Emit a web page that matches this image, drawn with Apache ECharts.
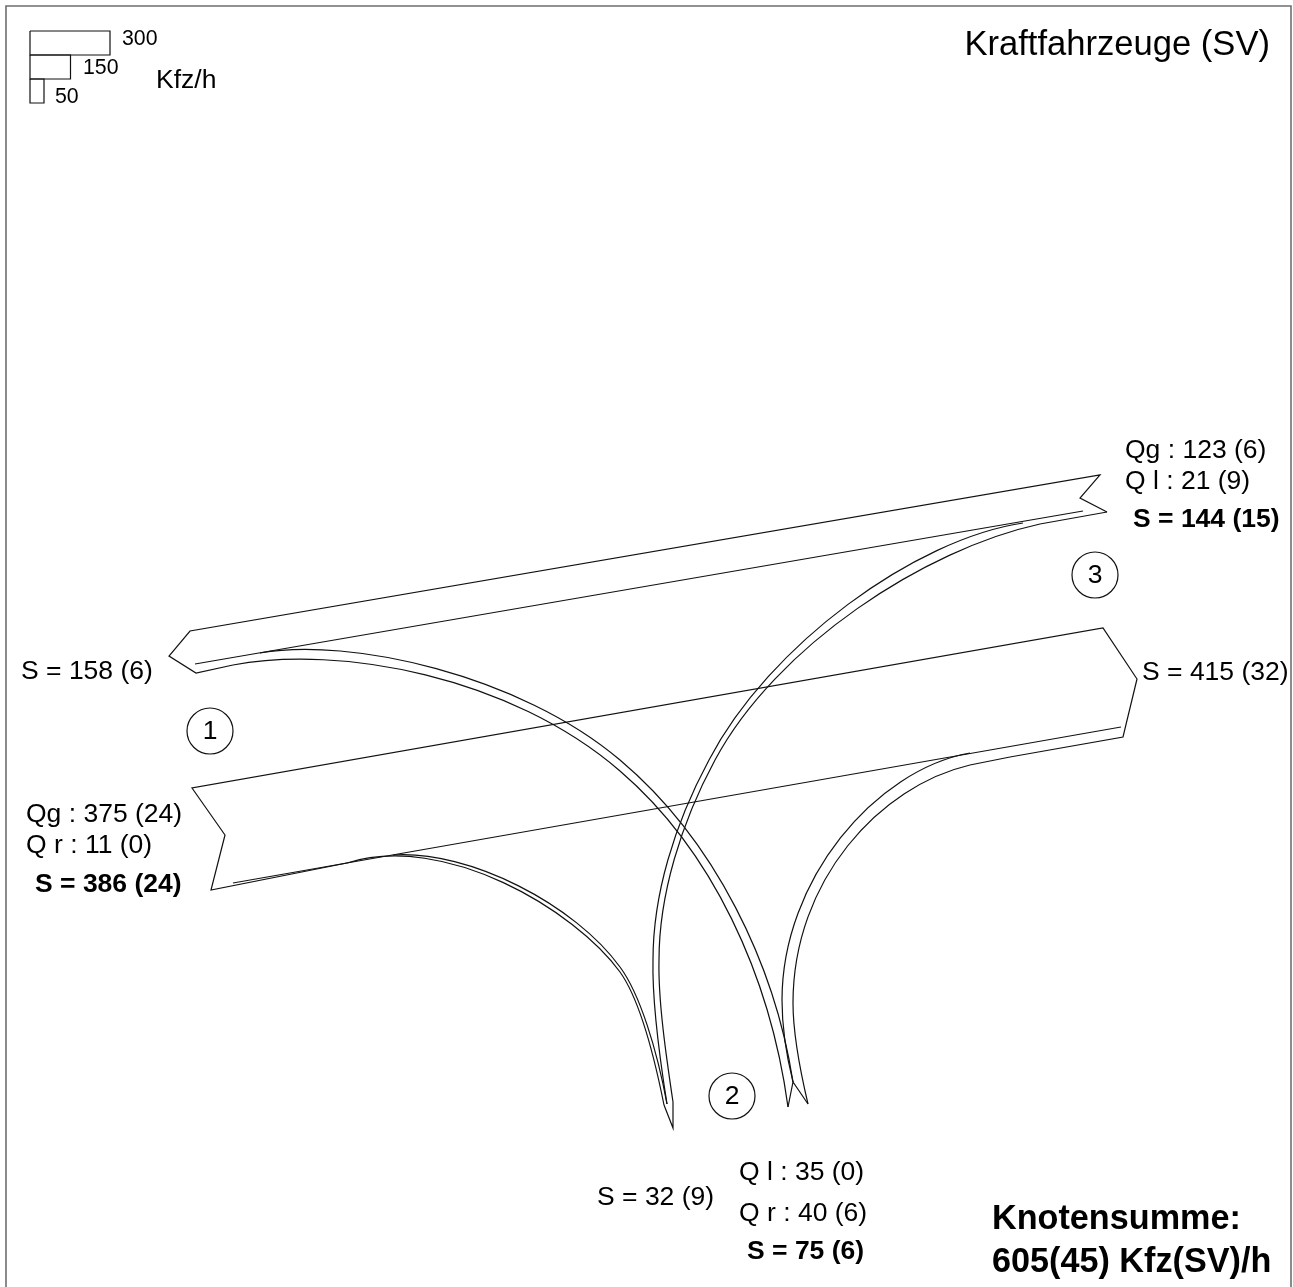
<!DOCTYPE html>
<html><head><meta charset="utf-8">
<style>html,body{margin:0;padding:0;background:#fff}#c{width:1293px;height:1287px}</style>
<script src="https://cdn.jsdelivr.net/npm/echarts@6/dist/echarts.min.js"></script>
</head><body><div id="c"></div>
<script>
// Straight outlines
const frame = [[6,1300],[6,6],[1291,6],[1291,1300]];
const key300 = [[30,31],[110,31],[110,55],[30,55],[30,31]];
const key150 = [[30,55],[70.5,55],[70.5,79],[30,79],[30,55]];
const key50  = [[30,79],[44,79],[44,103],[30,103],[30,79]];
const arm1Outline = [[1107,512],[1080,498],[1100,475],[190,631],[169,656],[196,673],[233,665]];
const arm1Divider = [[195,664],[1083,511]];
const arm3Outline = [[1010,757],[1123,737],[1137,679],[1103,628],[192,788],[225,835],[211,890],[347,863]];
const arm3Divider = [[1121,727],[233,883]];
const arm1Return = [[1107,512],[1040,524]];
const arm3Join = [[1010,757],[970,765]];
const leftTip = [[664,1105],[673,1128],[673,1102]];
const rightTip = [[788,1107],[793,1082],[808,1104]];
// Curved flows: each row is a cubic span (start, handle, handle, end)
const flow1to2Upper = [
  [[260,653],[350,637],[520,675],[620,760]],
  [[620,760],[715,840],[775,965],[793,1082]]];
const flow1to2Lower = [
  [[233,665],[340,645],[510,676],[620,771]],
  [[620,771],[712,850],[770,975],[788,1107]]];
const flow3to2Upper = [
  [[1023,523],[915,539],[769,645],[709,760]],
  [[709,760],[674,825],[653,895],[653,960]],
  [[653,960],[652,1000],[660,1060],[667,1104]]];
const flow3to2Lower = [
  [[1040,524],[925,549],[776,646],[715,760]],
  [[715,760],[681,823],[659,895],[659,960]],
  [[659,960],[658,1000],[666,1055],[673,1102]]];
const flowRightUpper = [
  [[970,753],[875,770],[782,880],[782,1000]],
  [[782,1000],[782,1030],[787,1058],[793,1082]]];
const flowRightLower = [
  [[970,765],[880,786],[793,880],[793,1003]],
  [[793,1003],[793,1035],[800,1070],[808,1104]]];
const flowLeftUpper = [
  [[393,855],[470,850],[575,905],[620,967]],
  [[620,967],[640,994],[657,1050],[667,1104]]];
const flowLeftLower = [
  [[347,863],[445,832],[575,910],[620,972]],
  [[620,972],[640,1000],[654,1055],[664,1105]]];
// Texts
const plainTexts = ['Qg : 123 (6)','Q l : 21 (9)','S = 158 (6)','S = 415 (32)','Qg : 375 (24)','Q r : 11 (0)','S = 32 (9)','Q l : 35 (0)','Q r : 40 (6)','Kfz/h'];
const plainAnchors = [[1125,451],[1125,482],[21,672],[1142,673],[26,815],[26,846],[597,1198],[739,1173],[739,1214],[156,81]];
const boldTexts = ['S = 144 (15)','S = 386 (24)','S = 75 (6)'];
const boldAnchors = [[1133,520],[35,885],[747,1252]];
const keyTexts = ['300','150','50'];
const keyAnchors = [[122,39],[83,68],[55,97]];
const titleText = 'Kraftfahrzeuge (SV)';
const titleAnchor = [1270,45];
const totalTexts = ['Knotensumme:','605(45) Kfz(SV)/h'];
const totalAnchors = [[992,1220],[992,1263]];
const armNumbers = ['1','2','3'];
const armCenters = [[210,731],[732,1096],[1095,575]];

const INK = '#111', FONT = '"Liberation Sans", Arial, sans-serif', WIDTH = 1.2;
const line = (data, color, width) => ({
  type:'line', data, smooth:false, showSymbol:false, symbol:'none', clip:false, silent:true,
  lineStyle:{color:color||INK, width:width||WIDTH, join:'miter', cap:'butt'}, z:2
});
const curve = spans => ({
  type:'custom', coordinateSystem:'cartesian2d', clip:false, silent:true, z:2,
  data: spans.map(s=>s.flat()),
  renderItem:(params,api)=>{
    const p = [0,2,4,6].map(i=>api.coord([api.value(i),api.value(i+1)]));
    return {type:'bezierCurve', shape:{x1:p[0][0],y1:p[0][1],cpx1:p[1][0],cpy1:p[1][1],cpx2:p[2][0],cpy2:p[2][1],x2:p[3][0],y2:p[3][1]},
      style:{fill:null,stroke:INK,lineWidth:WIDTH}};
  }
});
const textSeries = (texts, anchors, size, weight, align) => ({
  type:'custom', coordinateSystem:'cartesian2d', clip:false, silent:true, z:5,
  data: anchors.map((p,i)=>({value:p, name:texts[i]})),
  renderItem:(params,api)=>{
    const c = api.coord([api.value(0),api.value(1)]);
    return {type:'text', x:c[0], y:c[1], style:{text:texts[params.dataIndex], fill:'#000',
      font:`${weight} ${size}px ${FONT}`, align, verticalAlign:'middle'}};
  }
});
const series = [
  line(frame,'#6e6e6e',1.6),
  ...[key300,key150,key50].map(d=>line(d)),
  ...[arm1Outline,arm1Divider,arm3Outline,arm3Divider,arm1Return,arm3Join,leftTip,rightTip].map(d=>line(d)),
  ...[flow1to2Upper,flow1to2Lower,flow3to2Upper,flow3to2Lower,flowRightUpper,flowRightLower,flowLeftUpper,flowLeftLower].map(curve),
  textSeries(plainTexts,plainAnchors,26.5,'normal','left'),
  textSeries(boldTexts,boldAnchors,26.5,'bold','left'),
  textSeries(keyTexts,keyAnchors,21.3,'normal','left'),
  textSeries([titleText],[titleAnchor],34.6,'normal','right'),
  textSeries(totalTexts,totalAnchors,34.2,'bold','left'),
  {type:'scatter', data:armCenters, symbol:'circle', symbolSize:46, clip:false, silent:true, z:4,
   itemStyle:{color:'rgba(255,255,255,0)',borderColor:INK,borderWidth:WIDTH,opacity:1},
   label:{show:true,position:'inside',formatter:p=>armNumbers[p.dataIndex],color:'#000',fontSize:26.5,fontFamily:FONT,offset:[0,1]}}
];
const chart = echarts.init(document.getElementById('c'),null,{renderer:'canvas'});
chart.setOption({
  animation:false, backgroundColor:'#fff', legend:{show:false}, tooltip:{show:false},
  grid:{left:0,right:0,top:0,bottom:0,containLabel:false},
  xAxis:{type:'value',min:0,max:1293,show:false},
  yAxis:{type:'value',min:0,max:1287,inverse:true,show:false},
  series
});
</script></body></html>
